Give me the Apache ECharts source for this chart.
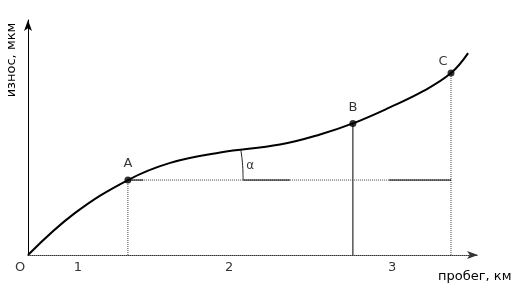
<!DOCTYPE html>
<html><head><meta charset="utf-8">
<script src="https://cdn.jsdelivr.net/npm/echarts@6/dist/echarts.min.js"></script>
<style>html,body{margin:0;padding:0;background:#fff}#c{width:528px;height:298px}</style>
</head><body><div id="c"></div>
<script>
// wear curve (mileage units 0..100, wear units 0..100)
const mileage = [0, 10.4, 22.2, 31.6, 42.7, 56, 64.9, 72.2, 80.4, 87.8, 94, 97.8];
const wear    = [0, 17.8, 31.9, 39.2, 43.6, 47, 51.3, 56, 62.8, 69.7, 77.4, 85.9];
// marked points
const pointNames = ['A', 'B', 'C'];
const pointX = [22.2, 72.2, 94];
const pointY = [31.9, 56, 77.4];
// region labels along the mileage axis
const regionLabels = ['1', '2', '3'];
const regionX = [11.1, 44.7, 80.9];
// angle marker
const angleX = [47.3, 47.7, 47.8];
const angleY = [44.6, 38, 31.9];
const angleLabelX = 48.5, angleLabelY = 38;
// solid parts of the base line through A
const solidSegs = [[22.2, 25.6], [47.8, 58.2], [80.2, 94]];
const xName = 'пробег, км', yName = 'износ, мкм';

const FONT = 'DejaVu Sans';
const curve = mileage.map((x, i) => [x, wear[i]]);
const series = [];
series.push({type: 'line', data: curve, smooth: 0.4, symbol: 'none',
  lineStyle: {color: '#000', width: 2}, z: 5});
// verticals
pointX.forEach((x, i) => {
  series.push({type: 'line', data: [[x, 0], [x, pointY[i]]], symbol: 'none',
    lineStyle: {color: i === 1 ? '#000' : '#444', width: 1, type: i === 1 ? 'solid' : [1, 1]}});
});
// horizontal base line
series.push({type: 'line', data: [[pointX[0], pointY[0]], [pointX[2], pointY[0]]], symbol: 'none',
  lineStyle: {color: '#444', width: 1, type: [1, 1]}});
solidSegs.forEach(s => series.push({type: 'line', data: [[s[0], pointY[0]], [s[1], pointY[0]]], symbol: 'none',
  lineStyle: {color: '#000', width: 1}}));
// angle
series.push({type: 'line', data: angleX.map((x, i) => [x, angleY[i]]), smooth: true, symbol: 'none',
  lineStyle: {color: '#222', width: 1}});
series.push({type: 'scatter', data: [[angleLabelX, angleLabelY]], symbolSize: 0,
  label: {show: true, formatter: 'α', position: 'right', distance: 0, fontFamily: FONT, fontSize: 12, color: '#000'}});
// points
series.push({type: 'scatter', data: pointX.map((x, i) => ({value: [x, pointY[i]], name: pointNames[i],
  label: {offset: i === 2 ? [-8, 5] : [0, 0]}})),
  symbolSize: 7, itemStyle: {color: '#000'}, z: 10,
  label: {show: true, formatter: p => p.name, position: 'top', distance: 6, fontFamily: FONT, fontSize: 13, color: '#000'}});
// region labels and origin
series.push({type: 'scatter', clip: false, symbolSize: 0,
  data: regionX.map((x, i) => ({value: [x, 0], name: regionLabels[i]})).concat([{value: [0, 0], name: 'O', label: {offset: [-8, 0]}}]),
  label: {show: true, formatter: p => p.name, position: 'bottom', distance: 6, fontFamily: FONT, fontSize: 13, color: '#000'}});

const chart = echarts.init(document.getElementById('c'), null, {renderer: 'canvas'});
chart.setOption({
  animation: false,
  grid: {left: 28, right: 50, top: 20, bottom: 43},
  xAxis: {type: 'value', min: 0, max: 100, splitLine: {show: false}, axisTick: {show: false}, axisLabel: {show: false},
    axisLine: {show: true, onZero: false, symbol: ['none', 'arrow'], symbolSize: [6, 11], symbolOffset: [0, 0],
      lineStyle: {color: '#333', width: 1, type: [1, 1]}}},
  yAxis: {type: 'value', min: 0, max: 100, splitLine: {show: false}, axisTick: {show: false}, axisLabel: {show: false},
    axisLine: {show: true, onZero: false, symbol: ['none', 'arrow'], symbolSize: [6, 11],
      lineStyle: {color: '#000', width: 1}}},
  graphic: [
    {type: 'text', left: 438, top: 270, style: {text: xName, font: '13px "DejaVu Sans"', fill: '#000'}},
    {type: 'text', x: 12, y: 60, rotation: Math.PI / 2,
      style: {text: yName, font: '13px "DejaVu Sans"', fill: '#000', align: 'center', verticalAlign: 'middle'}}
  ],
  series: series
});
</script></body></html>
